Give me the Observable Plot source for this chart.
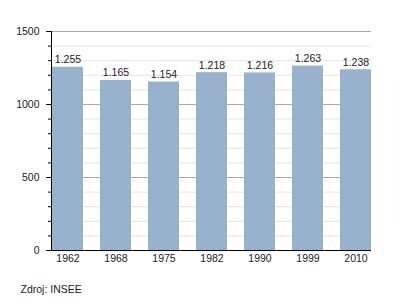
<!DOCTYPE html>
<html>
<head>
<meta charset="utf-8">
<script src="https://cdn.jsdelivr.net/npm/d3@7"></script>
<script src="https://cdn.jsdelivr.net/npm/@observablehq/plot@0.6"></script>
<style>
  html, body { margin: 0; padding: 0; background: #fff; }
</style>
</head>
<body>
<div id="chart"></div>
<script>
const years = ["1962", "1968", "1975", "1982", "1990", "1999", "2010"];
const population = [1255, 1165, 1154, 1218, 1216, 1263, 1238];
const majorTicks = [0, 500, 1000, 1500];
const minorTicks = d3.range(0, 1501, 100);
const caption = "Zdroj: INSEE";

const data = years.map((y, i) => ({year: y, value: population[i]}));
const fmt = d3.formatLocale({decimal: ",", thousands: ".", grouping: [3], currency: ["", ""]}).format(",d");

const chart = Plot.plot({
  width: 400,
  height: 300,
  marginLeft: 51,
  marginRight: 29,
  marginTop: 31,
  marginBottom: 50,
  style: {fontFamily: "'Liberation Sans', Arial, sans-serif", fontSize: "10.5px", background: "#fff", color: "#222"},
  x: {domain: years, paddingInner: 0.36, paddingOuter: 0, label: null},
  y: {domain: [0, 1500], label: null},
  marks: [
    Plot.ruleY(minorTicks.filter(t => !majorTicks.includes(t)), {stroke: "#e4e4e4"}),
    Plot.ruleY(majorTicks, {stroke: "#a8a8a8"}),
    Plot.barY(data, {x: "year", y: "value", fill: "#98b1cc"}),
    Plot.text(data, {x: "year", y: "value", text: d => fmt(d.value), lineAnchor: "bottom", dy: -4, fill: "#222", fontSize: 10.5}),
    Plot.axisY({ticks: minorTicks, tickSize: 3, tickFormat: () => "", stroke: "#000"}),
    Plot.axisY({ticks: majorTicks, tickSize: 5, tickPadding: 7, tickFormat: "d", stroke: "#000", fill: "#222", fontSize: 10.5, label: null}),
    Plot.axisX({tickSize: 0, tickPadding: 4, fill: "#222", fontSize: 10.5, label: null}),
    Plot.frame({anchor: "left", stroke: "#000"}),
    Plot.ruleY([0], {stroke: "#000", strokeWidth: 1.2}),
    Plot.text([caption], {frameAnchor: "bottom-left", dx: -31, dy: 39, textAnchor: "start", lineAnchor: "middle", fill: "#222", fontSize: 10.5})
  ]
});
document.getElementById("chart").appendChild(chart);
</script>
</body>
</html>
